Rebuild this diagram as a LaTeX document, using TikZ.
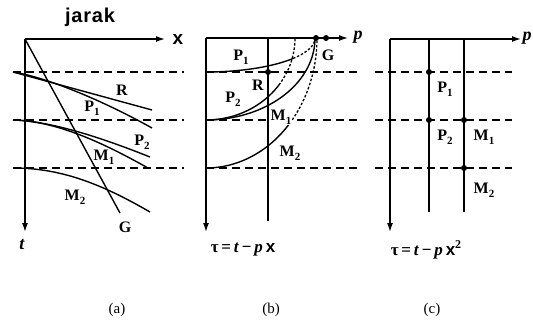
\documentclass[tikz,border=0pt]{standalone}
\usepackage{fontspec}
\setmainfont{Liberation Serif}
\setsansfont{Liberation Sans}
\usetikzlibrary{arrows.meta}
\newcommand{\lb}[2]{\textbf{#1\raisebox{-4pt}{\fontsize{11}{11}\selectfont #2}}}
\tikzset{
  ax/.style={line width=1.4pt,-{Latex[length=9pt,width=6pt]}},
  ln/.style={line width=1.4pt},
  dl/.style={line width=1.4pt, dash pattern=on 8pt off 5pt},
  dt/.style={line width=1.3pt, dash pattern=on 2.5pt off 1.8pt},
  lab/.style={font=\fontsize{16}{16}\selectfont\bfseries, inner sep=0pt},
  dotc/.style={circle, fill=black, inner sep=0pt, minimum size=6pt},
  frm/.style={font=\fontsize{17}{17}\selectfont\bfseries, inner sep=0pt},
  captxt/.style={font=\fontsize{15}{15}\selectfont, inner sep=0pt}
}
\begin{document}
\begin{tikzpicture}[x=1pt,y=-1pt]
\useasboundingbox (0,0) rectangle (533,322);
% ---------- panel (a)
\coordinate (ao) at (25,39);
\coordinate (ax) at (165,39);
\coordinate (at) at (25,232);
\draw[ax] (ao) -- (ax);
\draw[ax] (ao) -- (at);
\node[inner sep=0pt, font=\fontsize{20}{20}\selectfont\sffamily\bfseries\addfontfeature{LetterSpace=4}] (jarak) at (90,17) {jarak};
\node[inner sep=0pt, font=\fontsize{19}{19}\selectfont\sffamily\bfseries] (xa) at (178,39) {x};
\node[inner sep=0pt, font=\fontsize{18}{18}\selectfont\itshape\bfseries] (ta) at (22,245) {t};
\foreach \y in {72,120,168} \draw[dl] (13,\y) -- (184,\y);
\coordinate (g1) at (120,213);
\draw[ln] (ao) -- (g1);
\draw[ln] (13,72) -- (152,110);
\draw[ln] (13,72) .. controls (45,77) and (100,99) .. (152,128);
\draw[ln] (13,120) .. controls (50,121) and (100,137) .. (150,157);
\draw[ln] (13,120) .. controls (55,121) and (100,141) .. (148,168);
\draw[ln] (13,168) .. controls (60,168) and (100,183) .. (150,212);
\node[lab] (Ra) at (122,90) {R};
\node[lab] (P1a) at (92,108) {\lb{P}{1}};
\node[lab] (P2a) at (142,142) {\lb{P}{2}};
\node[lab] (M1a) at (104,157) {\lb{M}{1}};
\node[lab] (M2a) at (75,197) {\lb{M}{2}};
\node[lab] (Ga) at (125,227) {G};
% ---------- panel (b)
\coordinate (bo) at (206,38);
\coordinate (bp) at (348,38);
\coordinate (bt) at (206,232);
\draw[ax] (bo) -- (bp);
\draw[ax] (bo) -- (bt);
\draw[ln] (268,38) -- (268,221);
\foreach \y in {72,120,168} \draw[dl] (206,\y) -- (357,\y);
% P1
\draw[ln] plot[domain=90:37, samples=30] ({206+109*cos(\x)},{38+34*sin(\x)});
\draw[dt] plot[domain=37:0, samples=30] ({206+109*cos(\x)},{38+34*sin(\x)});
% P2
\draw[ln] plot[domain=90:35, samples=40] ({206+89*cos(\x)},{38+82*sin(\x)});
\draw[dt] plot[domain=35:0, samples=30] ({206+89*cos(\x)},{38+82*sin(\x)});
% M1
\draw[ln] plot[domain=90:0, samples=50] ({206+109*cos(\x)},{38+82*sin(\x)});
% M2
\draw[ln] plot[domain=90:41, samples=40] ({206+111*cos(\x)},{38+130*sin(\x)});
\draw[dt] plot[domain=41:0, samples=30] ({206+111*cos(\x)},{38+130*sin(\x)});
\node[dotc] (dg1) at (316,38) {};
\node[dotc] (dg2) at (326,38) {};
\node[dotc] (dr) at (268,72) {};
\node[lab] (P1b) at (241,57) {\lb{P}{1}};
\node[lab] (Rb) at (258,85) {R};
\node[lab] (P2b) at (233,99) {\lb{P}{2}};
\node[lab, fill=white, inner sep=0.5pt] (M1b) at (281,117) {\lb{M}{1}};
\node[lab] (M2b) at (290,153) {\lb{M}{2}};
\node[lab] (Gb) at (328,55) {G};
\node[inner sep=0pt, font=\fontsize{18}{18}\selectfont\itshape\bfseries] (pb) at (358,37) {p};
\node[frm] (fb) at (243,250) {τ\,=\,\textit{t}\,−\,\textit{p}\,{\sffamily\bfseries x}};
% ---------- panel (c)
\coordinate (co) at (390,39);
\coordinate (cp) at (521,39);
\coordinate (ct) at (390,232);
\draw[ax] (co) -- (cp);
\draw[ax] (co) -- (ct);
\draw[ln] (429,39) -- (429,212);
\draw[ln] (464,39) -- (464,212);
\foreach \y in {72,120,168} \draw[dl] (375,\y) -- (512,\y);
\node[dotc] (c1) at (429,72) {};
\node[dotc] (c2) at (429,120) {};
\node[dotc] (c3) at (464,120) {};
\node[dotc] (c4) at (464,168) {};
\node[lab] (P1c) at (445,89) {\lb{P}{1}};
\node[lab] (P2c) at (445,137) {\lb{P}{2}};
\node[lab] (M1c) at (484,137) {\lb{M}{1}};
\node[lab] (M2c) at (484,190) {\lb{M}{2}};
\node[inner sep=0pt, font=\fontsize{18}{18}\selectfont\itshape\bfseries] (pc) at (527,38) {p};
\node[frm] (fc) at (426,250) {τ\,=\,\textit{t}\,−\,\textit{p}\,{\sffamily\bfseries x}\raisebox{7pt}{\fontsize{12}{12}\selectfont 2}};
% ---------- captions
\node[captxt] (ca) at (117,310) {(a)};
\node[captxt] (cb) at (271,310) {(b)};
\node[captxt] (cc) at (432,310) {(c)};
\end{tikzpicture}
\end{document}
